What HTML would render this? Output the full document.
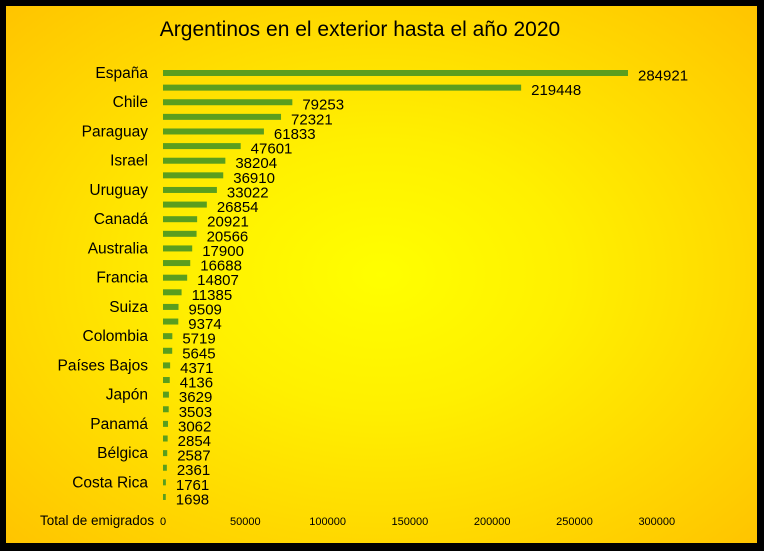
<!DOCTYPE html>
<html><head><meta charset="utf-8"><style>
body{margin:0;width:764px;height:551px;background:#000;overflow:hidden}
#c{position:absolute;left:6px;top:6px;width:751px;height:537px;background:radial-gradient(ellipse at 50% 50%,#ffff00 0%,#fff000 35%,#ffd500 75%,#ffc400 100%)}
svg{position:absolute;left:0;top:0}
text{font-family:"Liberation Sans",sans-serif;fill:#000}
</style></head><body><div id="c"></div>
<svg width="764" height="551" id="s"></svg>
<script>
const v=[284921,219448,79253,72321,61833,47601,38204,36910,33022,26854,20921,20566,17900,16688,14807,11385,9509,9374,5719,5645,4371,4136,3629,3503,3062,2854,2587,2361,1761,1698];
const n=["España","Chile","Paraguay","Israel","Uruguay","Canadá","Australia","Francia","Suiza","Colombia","Países Bajos","Japón","Panamá","Bélgica","Costa Rica"];
let h='<text x="360" y="36" font-size="21" text-anchor="middle">Argentinos en el exterior hasta el año 2020</text>';
const k=0.001632;
v.forEach((d,i)=>{const y=73+i*14.62;const w=d*k;
h+=`<rect x="163" y="${y-3}" width="${w}" height="6" fill="#5a9e1e"/>`;
h+=`<text x="${163+w+10}" y="${y+7.5}" font-size="15">${d}</text>`;
if(i%2==0)h+=`<text x="148" y="${y+5}" font-size="15.5" text-anchor="end">${n[i/2]}</text>`;});
[0,50000,100000,150000,200000,250000,300000].forEach((t,i)=>{h+=`<text x="${163+i*82.3}" y="525" font-size="11" text-anchor="middle">${t}</text>`});
h+='<text x="40" y="525" font-size="13.5">Total de emigrados</text>';
document.getElementById('s').innerHTML=h;
</script></body></html>
